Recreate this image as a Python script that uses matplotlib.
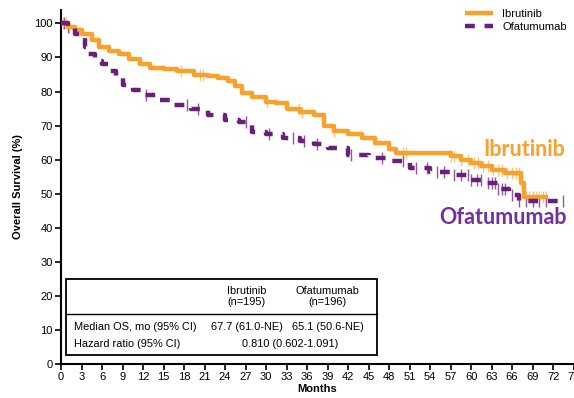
import numpy as np
import matplotlib
matplotlib.use("Agg")
import matplotlib.pyplot as plt
from matplotlib.patches import Rectangle

# ---- data ----
ibr_t = [0, 1.0, 2.0, 3.0, 4.5, 5.5, 7.0, 8.5, 10.0, 11.5, 13.0, 15.0, 17.0, 19.5, 21.5, 23.0,
         24.5, 25.5, 26.5, 28.0, 30.0, 31.5, 33.0, 35.0, 37.0, 38.5, 40.0, 42.0, 44.0, 46.0,
         48.0, 49.0, 57.0, 58.5, 60.0, 61.5, 63.0, 65.0, 67.3, 67.8, 71.3]
ibr_s = [100, 99, 98, 97, 95, 93, 92, 91, 89.5, 88, 87, 86.5, 86, 85, 84.5, 84,
         83, 81.5, 79.5, 78.5, 77, 76.5, 75, 74, 73, 70, 68.5, 67.5, 66.5, 65,
         63, 62, 61, 60, 59, 58, 57, 56, 53, 49, 49]
ofa_t = [0, 1.0, 2.0, 3.0, 3.5, 4.0, 5.0, 6.0, 7.0, 8.0, 9.0, 10.5, 12.0, 14.0, 16.0, 19.0,
         21.5, 24.0, 26.0, 28.0, 30.0, 32.5, 35.0, 37.0, 39.0, 42.0, 45.0, 48.0, 51.0, 54.0,
         57.0, 60.0, 62.0, 64.0, 65.5, 67.0, 73.0]
ofa_s = [100, 99, 97, 96, 93, 91, 89, 88, 86, 84, 82, 80.5, 79, 77.5, 76, 75,
         73, 71.5, 71, 68, 67.5, 66.5, 65.5, 64.5, 63.5, 61.5, 60.5, 59.5, 57.5, 56.5,
         55.5, 54, 53, 51.5, 49.5, 48, 48]
ibr_cens = [0.3, 0.7, 1.2, 17.5, 20.3, 20.8, 30.2, 34.8, 35.2, 40.0, 50.0, 50.5, 57.0, 57.5,
            58.5, 59.5, 60.5, 61.0, 61.8, 62.5, 63.2, 64.0, 64.5, 65.2, 66.0, 66.5, 67.0,
            68.0, 68.5, 69.0, 69.5, 70.0, 70.5, 71.0]
ofa_cens = [0.5, 1.0, 12.5, 18.5, 20.0, 27.0, 30.5, 34.0, 35.5, 37.5, 42.5, 47.0, 50.0, 52.0,
            53.5, 55.0, 56.0, 57.5, 58.5, 59.5, 60.0, 60.8, 61.5, 62.5, 63.0, 63.5, 64.0,
            64.5, 65.0, 66.0, 67.0, 68.0, 69.0, 70.0, 71.0, 73.5]
xticks = list(range(0, 76, 3))
yticks = list(range(0, 101, 10))

ORANGE = "#F9A12C"
ORANGE_L = "#F8C580"
PURPLE = "#6A1F78"
PURPLE_L = "#8E5A99"
TXT_PURPLE = "#7030A0"

def step_at(t, ts, ss):
    idx = np.searchsorted(ts, t, side="right") - 1
    return np.array(ss)[idx]

plt.rcParams['font.family'] = ['Liberation Sans', 'DejaVu Sans']
fig = plt.figure(figsize=(5.74, 3.98), dpi=100)
ax = fig.add_axes([0.1063, 0.0854, 0.893, 0.89])

# censor marks
ax.plot(ibr_cens, step_at(ibr_cens, ibr_t, ibr_s), linestyle="none", marker="|",
        markersize=8, color=ORANGE_L, mew=1.0, zorder=2)
ax.plot(ofa_cens, step_at(ofa_cens, ofa_t, ofa_s), linestyle="none", marker="|",
        markersize=8, color=PURPLE_L, mew=1.0, zorder=2)

ax.step(ibr_t, ibr_s, where="post", color=ORANGE, lw=3.2, label="Ibrutinib", zorder=3,
        solid_capstyle="butt")
ax.step(ofa_t, ofa_s, where="post", color=PURPLE, lw=3.2, label="Ofatumumab", zorder=3,
        linestyle=(0, (2.2, 2.2)), dash_capstyle="butt")

ax.set_xlim(0, 75)
ax.set_ylim(0, 104)
ax.set_xticks(xticks)
ax.set_yticks(yticks)
ax.tick_params(labelsize=8, length=4, width=1.2, direction="out", pad=2)
for s in ["top", "right"]:
    ax.spines[s].set_visible(False)
for s in ["left", "bottom"]:
    ax.spines[s].set_linewidth(1.5)
ax.set_xlabel("Months", fontsize=8, fontweight="bold", labelpad=1)
ax.set_ylabel("Overall Survival (%)", fontsize=8, fontweight="bold", labelpad=8)

leg = ax.legend(loc="upper right", bbox_to_anchor=(1.0, 1.02), frameon=False, fontsize=8,
                handlelength=2.6, borderaxespad=0.2, labelspacing=0.2)

ax.text(67.8, 63.0, "Ibrutinib", color=ORANGE, fontsize=15.5, fontweight="bold",
        family=["Lato", "DejaVu Sans"], ha="center", va="center")
ax.text(64.6, 43.0, "Ofatumumab", color=TXT_PURPLE, fontsize=15.5, fontweight="bold",
        family=["Lato", "DejaVu Sans"], ha="center", va="center")

# summary table box
ax.add_patch(Rectangle((0.8, 2.6), 45.4, 22.4, fill=False, lw=1.3, ec="black", zorder=4))
ax.plot([0.8, 46.2], [14.6, 14.6], color="black", lw=1.0, zorder=4)
c1, c2 = 27.2, 39.0
fs = 7.9
ax.text(c1, 19.8, "Ibrutinib\n(n=195)", ha="center", va="center", fontsize=fs, linespacing=1.2)
ax.text(c2, 19.8, "Ofatumumab\n(n=196)", ha="center", va="center", fontsize=fs, linespacing=1.2)
ax.text(1.9, 11.0, "Median OS, mo (95% CI)", ha="left", va="center", fontsize=fs)
ax.text(c1, 11.0, "67.7 (61.0-NE)", ha="center", va="center", fontsize=fs)
ax.text(c2, 11.0, "65.1 (50.6-NE)", ha="center", va="center", fontsize=fs)
ax.text(1.9, 5.8, "Hazard ratio (95% CI)", ha="left", va="center", fontsize=fs)
ax.text(33.5, 5.8, "0.810 (0.602-1.091)", ha="center", va="center", fontsize=fs)

fig.savefig("out.png", dpi=100)
